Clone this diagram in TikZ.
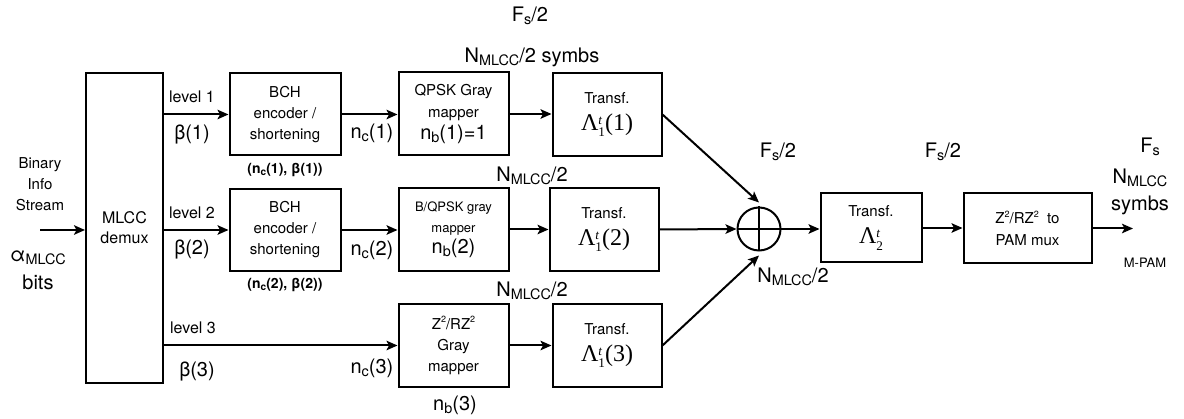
\documentclass[tikz,border=0pt]{standalone}
\usepackage{fontspec}
\setmainfont{TeX Gyre Heros}
\newfontfamily\serifx{Liberation Serif}
\usetikzlibrary{arrows.meta}
\newcommand{\sbx}[1]{\raisebox{-0.3ex}{\scalebox{0.72}{#1}}}
\newcommand{\spx}[1]{\raisebox{0.8ex}{\scalebox{0.6}{#1}}}
\newcommand{\fsz}[2]{\fontsize{#1}{#2}\selectfont}
\newcommand{\lamx}[2]{{\serifx\fsz{24}{26}Λ\raisebox{-0.55ex}{\scalebox{0.55}{\shortstack[l]{\itshape t\\[3pt]#1}}}#2}}
\begin{document}
\begin{tikzpicture}[x=1pt,y=-1pt,
  blk/.style={draw, line width=2pt, align=center, inner sep=0pt},
  arr/.style={line width=2pt, -{Stealth[length=11pt,width=9.5pt,inset=2.5pt]}},
  lbl/.style={font=\fsz{16}{19}, inner sep=0pt},
  big/.style={font=\fsz{20}{24}, inner sep=0pt},
  bl/.style={font=\fsz{14}{17}\bfseries, inner sep=0pt},
  boxtxt/.style={font=\fsz{15}{21}},
  trtxt/.style={font=\fsz{15}{27}}]
\useasboundingbox (0,0) rectangle (1184,419);

% blocks
\node[blk, minimum width=77, minimum height=310, font=\fsz{16}{20}] (demux) at (124.5,228) {MLCC\\demux};
\node[blk, boxtxt, minimum width=111, minimum height=82] (bch1) at (285,114.5) {BCH\\encoder /\\shortening};
\node[blk, boxtxt, minimum width=111, minimum height=82] (bch2) at (285,230) {BCH\\encoder /\\shortening};
\node[blk, minimum width=110, minimum height=83, font=\fsz{15}{22}] (map1) at (453.5,114) {QPSK Gray\\mapper\\{\fsz{20}{22}n\sbx{b}(1)=1}};
\node[blk, minimum width=110, minimum height=83, font=\fsz{13}{21}] (map2) at (453.5,229.5) {B/QPSK gray\\mapper\\{\fsz{20}{22}n\sbx{b}(2)}};
\node[blk, minimum width=110, minimum height=83, font=\fsz{15}{21}] (map3) at (453.5,345.5) {Z\spx{2}/RZ\spx{2}\\Gray\\mapper};
\node[blk, trtxt, minimum width=109, minimum height=83] (tr1) at (607,114.5) {Transf.\\\lamx{1}{(1)}};
\node[blk, trtxt, minimum width=109, minimum height=83] (tr2) at (604,229.5) {Transf.\\\lamx{1}{(2)}};
\node[blk, trtxt, minimum width=109, minimum height=83] (tr3) at (607,345.5) {Transf.\\\lamx{1}{(3)}};
\node[draw, circle, line width=2pt, minimum size=43, inner sep=0pt] (sum) at (759,229) {};
\draw[line width=2pt] (sum.north) -- (sum.south) (sum.west) -- (sum.east);
\node[blk, trtxt, minimum width=101, minimum height=69] (tr4) at (871,228) {Transf.\\\lamx{2}{}};
\node[blk, minimum width=128, minimum height=70, font=\fsz{15}{22}] (mux) at (1027.5,228.5) {Z\spx{2}/RZ\spx{2}~ to\\PAM mux};

% free ends
\coordinate (in) at (40,230);
\coordinate (out) at (1133,230);

% connectors
\draw[arr] (in) -- (in -| demux.west);
\draw[arr] (demux.east |- bch1.west) -- (bch1.west);
\draw[arr] (demux.east |- bch2.west) -- (bch2.west);
\draw[arr] (demux.east |- map3.west) -- (map3.west);
\draw[arr] (bch1.east) -- (bch1.east -| map1.west);
\draw[arr] (bch2.east) -- (bch2.east -| map2.west);
\draw[arr] (map1.east) -- (map1.east -| tr1.west);
\draw[arr] (map2.east) -- (map2.east -| tr2.west);
\draw[arr] (map3.east) -- (map3.east -| tr3.west);
\draw[arr] (tr1.east) -- ([yshift=4pt]sum.north);
\draw[arr] (tr2.east) -- (sum.west);
\draw[arr] (tr3.east) -- ([yshift=-4pt]sum.south);
\draw[arr] (sum.east) -- (sum.east -| tr4.west);
\draw[arr] (tr4.east) -- (tr4.east -| mux.west);
\draw[arr] (mux.east) -- (mux.east -| out);

% labels
\node[font=\fsz{15}{21}, align=center, inner sep=0pt] (bis) at (40,184) {Binary\\Info\\Stream};
\node[big] (alpha) at (38,258) {α\sbx{MLCC}};
\node[big] (bits) at (38,282) {bits};
\node[lbl] (lv1) at (192,97) {level 1};
\node[big] (b1) at (192,135) {β(1)};
\node[lbl] (lv2) at (192,213) {level 2};
\node[big] (b2) at (192,250) {β(2)};
\node[lbl] (lv3) at (193,328) {level 3};
\node[big] (b3) at (197,372) {β(3)};
\node[big] (nc1) at (372,133) {n\sbx{c}(1)};
\node[big] (nc2) at (372,250) {n\sbx{c}(2)};
\node[big] (nc3) at (372,368) {n\sbx{c}(3)};
\node[bl] (p1) at (285,170) {(n\sbx{c}(1), β(1))};
\node[bl] (p2) at (285,285) {(n\sbx{c}(2), β(2))};
\node[big] (fs1) at (530,16) {F\sbx{s}/2};
\node[big] (nm1) at (532,57) {N\sbx{MLCC}/2 symbs};
\node[big] (nm2) at (532,176) {N\sbx{MLCC}/2};
\node[big] (nm3) at (532,291) {N\sbx{MLCC}/2};
\node[big] (nb3) at (455,405) {n\sbx{b}(3)};
\node[big] (fs2) at (778,152) {F\sbx{s}/2};
\node[big] (fs3) at (943,152) {F\sbx{s}/2};
\node[big] (nm4) at (793,277) {N\sbx{MLCC}/2};
\node[big] (fs4) at (1150,147) {F\sbx{s}};
\node[big] (nm5) at (1140,178) {N\sbx{MLCC}};
\node[big] (sy) at (1140,205) {symbs};
\node[font=\fsz{13}{16}, inner sep=0pt] (mpam) at (1145,263) {M-PAM};
\end{tikzpicture}
\end{document}
